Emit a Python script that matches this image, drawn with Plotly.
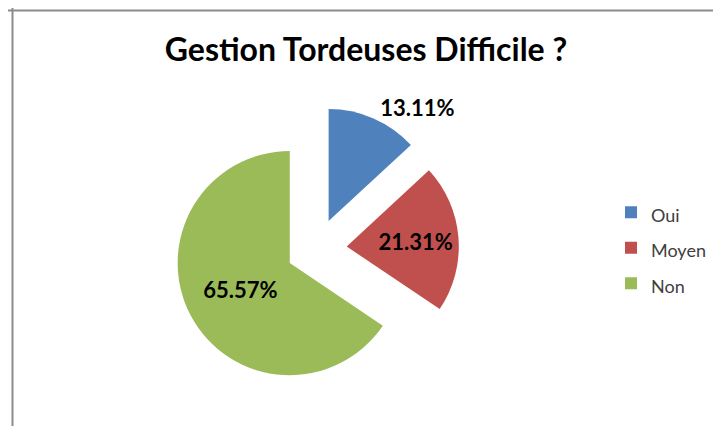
import plotly.graph_objects as go

labels = ["Oui", "Moyen", "Non"]
values = [13.11, 21.31, 65.57]
colors = ["#4F81BD", "#C0504D", "#9BBB59"]
text_labels = ["13.11%", "21.31%", "65.57%"]
text_positions = ["outside", "inside", "inside"]
title_text = "Gestion Tordeuses Difficile ?"

W, H = 721, 433

fig = go.Figure(go.Pie(
    labels=[f"<span style='font-size:18px'>{l}</span>" for l in labels],
    values=values,
    sort=False,
    direction="clockwise",
    rotation=0,
    pull=[0.27, 0.27, 0.27],
    marker=dict(colors=colors, line=dict(width=0)),
    text=text_labels,
    textinfo="text",
    textposition=text_positions,
    insidetextorientation="horizontal",
    textfont=dict(family="Lato", size=22, color="black", weight="bold"),
    hoverinfo="label+percent",
    domain=dict(x=[161 / W, 456 / W], y=[1 - 397 / H, 1 - 102 / H]),
))

fig.update_layout(
    width=W, height=H,
    margin=dict(l=0, r=0, t=0, b=0),
    paper_bgcolor="white",
    plot_bgcolor="white",
    title=dict(
        text=title_text,
        x=358 / W, xanchor="center",
        y=1 - 42 / H, yanchor="middle",
        font=dict(family="Lato", size=32, color="black", weight="bold"),
    ),
    showlegend=True,
    legend=dict(
        x=603 / W, xanchor="left",
        y=1 - 248.5 / H, yanchor="middle",
        font=dict(family="Lato", size=25, color="#404040"),
        bgcolor="rgba(0,0,0,0)",
        itemwidth=30,
    ),
    shapes=[
        dict(type="line", xref="paper", yref="paper", x0=0, x1=1, y0=1 - 2.5 / H, y1=1 - 2.5 / H,
             line=dict(color="#8c8c8c", width=2)),
        dict(type="line", xref="paper", yref="paper", x0=4.5 / W, x1=4.5 / W, y0=0, y1=1,
             line=dict(color="#8c8c8c", width=2)),
    ],
)

fig.write_html("out.html")
